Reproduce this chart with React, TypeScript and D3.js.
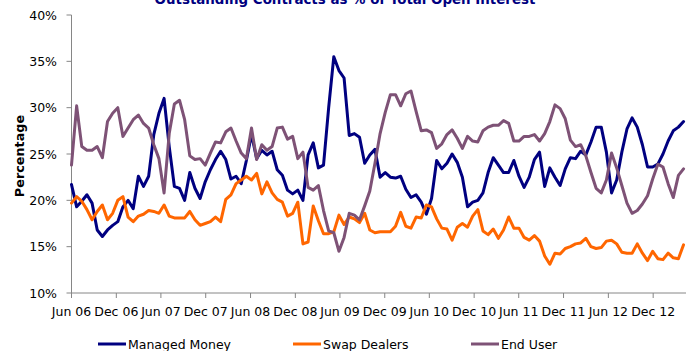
import React from 'react';
import * as d3 from 'd3';

const title = 'Outstanding Contracts as % of Total Open Interest';
const yAxisTitle = 'Percentage';
const yTicks = [10, 15, 20, 25, 30, 35, 40];
const xTickLabels = ['Jun 06', 'Dec 06', 'Jun 07', 'Dec 07', 'Jun 08', 'Dec 08', 'Jun 09', 'Dec 09', 'Jun 10', 'Dec 10', 'Jun 11', 'Dec 11', 'Jun 12', 'Dec 12'];
const startDate = '2006-06-01';
const endDate = '2013-04-14';
const stepDays = 21;

const managedMoney = [
  21.7, 19.3, 19.9, 20.6, 19.7, 16.8, 16.1, 16.8, 17.3, 17.7,
  19.3, 20.0, 19.1, 22.6, 21.5, 22.6, 27.1, 29.4, 31.0, 25.8,
  21.5, 21.3, 20.0, 23.0, 21.3, 20.2, 22.0, 23.3, 24.4, 25.3,
  24.4, 22.3, 22.6, 21.8, 24.3, 27.1, 24.5, 25.4, 24.9, 25.3,
  23.3, 22.7, 21.1, 20.7, 21.1, 20.0, 24.9, 26.2, 23.5, 23.8,
  30.0, 35.5, 34.0, 33.2, 27.0, 27.2, 26.8, 24.0, 24.9, 25.5,
  22.5, 23.0, 22.5, 22.4, 22.6, 21.2, 20.3, 20.6, 19.8, 18.5,
  20.2, 24.3, 23.4, 24.0, 25.0, 24.1, 22.5, 19.3, 19.8, 20.0,
  20.8, 23.0, 24.6, 23.8, 23.0, 23.0, 24.3, 22.6, 21.4, 22.5,
  24.4, 25.2, 21.5, 23.5, 22.5, 21.6, 23.4, 24.6, 24.5, 25.3,
  24.9, 26.3, 27.9, 27.9, 25.2, 20.8, 22.2, 25.2, 27.7, 28.9,
  27.9, 26.0, 23.6, 23.6, 23.9, 25.0, 26.4, 27.5, 27.9, 28.5,
];

const swapDealers = [
  19.7, 20.4, 19.9, 19.0, 17.9, 18.8, 19.5, 17.9, 18.6, 20.0,
  20.4, 18.2, 17.7, 18.3, 18.5, 18.9, 18.8, 18.6, 19.5, 18.3,
  18.1, 18.1, 18.1, 18.8, 17.9, 17.3, 17.5, 17.7, 18.2, 17.7,
  20.1, 20.6, 21.8, 22.2, 22.6, 22.2, 22.9, 20.7, 22.0, 20.8,
  20.1, 19.8, 18.3, 18.6, 19.8, 15.3, 15.5, 19.4, 17.8, 16.4,
  16.4, 16.6, 18.4, 17.4, 18.2, 18.0, 17.6, 18.6, 16.8, 16.5,
  16.6, 16.6, 16.6, 17.2, 18.7, 17.2, 17.0, 18.2, 18.1, 19.5,
  19.3, 18.0, 17.0, 16.9, 15.7, 17.1, 17.5, 17.1, 18.3, 19.0,
  16.7, 16.3, 16.9, 15.9, 16.8, 18.2, 17.0, 17.0, 16.0, 15.7,
  16.2, 15.6, 14.0, 13.1, 14.3, 14.2, 14.8, 15.0, 15.3, 15.4,
  15.9, 15.0, 14.8, 14.9, 15.6, 15.7, 15.3, 14.4, 14.3, 14.3,
  15.3, 14.3, 13.5, 14.5, 13.7, 13.6, 14.3, 13.8, 13.7, 15.2,
];

const endUser = [
  23.8, 30.2, 25.8, 25.4, 25.4, 25.8, 24.6, 28.5, 29.4, 30.0,
  26.9, 27.8, 28.7, 29.2, 28.3, 27.8, 26.0, 24.5, 20.8, 27.2,
  30.4, 30.8, 28.7, 24.8, 24.4, 24.5, 23.8, 25.1, 26.3, 26.2,
  27.4, 27.8, 26.4, 25.1, 24.5, 27.8, 24.4, 26.0, 25.4, 25.8,
  27.8, 27.9, 26.6, 26.9, 24.5, 25.2, 21.4, 21.1, 21.6, 18.9,
  16.7, 16.5, 14.5, 16.0, 18.6, 18.4, 17.9, 19.4, 21.0, 24.0,
  27.2, 29.5, 31.4, 31.4, 30.2, 31.5, 31.8, 29.6, 27.5, 27.6,
  27.3, 25.6, 26.1, 27.1, 27.6, 26.7, 25.6, 26.9, 26.4, 26.3,
  27.5, 27.9, 28.1, 28.1, 28.6, 28.3, 26.4, 26.4, 26.9, 26.9,
  27.1, 26.4, 27.2, 28.5, 30.3, 29.9, 28.8, 26.5, 25.8, 26.0,
  24.8, 23.0, 21.3, 20.8, 22.2, 25.1, 23.5, 21.6, 19.7, 18.6,
  18.9, 19.6, 20.5, 22.3, 23.9, 23.6, 21.8, 20.3, 22.7, 23.4,
];

const seriesNames = ['Managed Money', 'Swap Dealers', 'End User'];
const seriesColors = ['#000080', '#FF6600', '#7E5276'];

const FONT = "Verdana, 'DejaVu Sans', sans-serif";

export default function App() {
  const W = 694;
  const H = 351;
  const left = 71.5;
  const right = 686;
  const top = 15;
  const bottom = 293;

  const parseIso = d3.timeParse('%Y-%m-%d');
  const parseTick = d3.timeParse('%b %y');
  const t0 = parseIso(startDate) as Date;
  const t1 = parseIso(endDate) as Date;
  const dates = managedMoney.map((_, i) => d3.timeDay.offset(t0, i * stepDays));

  const x = d3.scaleTime().domain([t0, t1]).range([left, right]);
  const y = d3.scaleLinear().domain([10, 40]).range([bottom, top]);

  const line = d3
    .line<number>()
    .x((_, i) => x(dates[i]))
    .y((d) => y(d));

  const allSeries = [managedMoney, swapDealers, endUser];
  const axisColor = '#868686';

  const legendItems = [
    { lx: 98, tx: 128 },
    { lx: 293, tx: 323 },
    { lx: 471, tx: 501 },
  ];

  return (
    <svg
      width={W}
      height={H}
      style={{ position: 'absolute', left: 0, top: 0, background: '#fff' }}
      fontFamily={FONT}
    >
      <rect x={0} y={0} width={W} height={H} fill="#fff" />
      <text x={345} y={3.5} textAnchor="middle" fontSize={13.4} fontWeight="bold" fill="#000080">
        {title}
      </text>

      {/* y axis */}
      <line x1={left} x2={left} y1={top} y2={bottom} stroke={axisColor} strokeWidth={1} />
      {yTicks.map((t) => (
        <g key={t}>
          <line x1={left - 5} x2={left} y1={y(t)} y2={y(t)} stroke={axisColor} strokeWidth={1} />
          <text x={57} y={y(t) + 4.5} textAnchor="end" fontSize={12.5} fill="#000">
            {t + '%'}
          </text>
        </g>
      ))}
      <text
        transform={`translate(24,156) rotate(-90)`}
        textAnchor="middle"
        fontSize={12.8}
        fontWeight="bold"
        fill="#000"
      >
        {yAxisTitle}
      </text>

      {/* x axis */}
      <line x1={left} x2={right} y1={bottom} y2={bottom} stroke={axisColor} strokeWidth={1} />
      {xTickLabels.map((lab) => {
        const d = parseTick(lab) as Date;
        const px = x(d);
        return (
          <g key={lab}>
            <line x1={px} x2={px} y1={bottom} y2={bottom + 5} stroke={axisColor} strokeWidth={1} />
            <text x={px} y={315.5} textAnchor="middle" fontSize={12.5} fill="#000">
              {lab}
            </text>
          </g>
        );
      })}

      {/* series */}
      {allSeries.map((s, k) => (
        <path
          key={seriesNames[k]}
          d={line(s) || ''}
          fill="none"
          stroke={seriesColors[k]}
          strokeWidth={3}
          strokeLinejoin="round"
          strokeLinecap="round"
        />
      ))}

      {/* legend */}
      {seriesNames.map((name, k) => (
        <g key={name}>
          <line
            x1={legendItems[k].lx}
            x2={legendItems[k].lx + 28}
            y1={344}
            y2={344}
            stroke={seriesColors[k]}
            strokeWidth={3}
          />
          <text x={legendItems[k].tx} y={348.5} fontSize={12.5} fill="#000">
            {name}
          </text>
        </g>
      ))}
    </svg>
  );
}
